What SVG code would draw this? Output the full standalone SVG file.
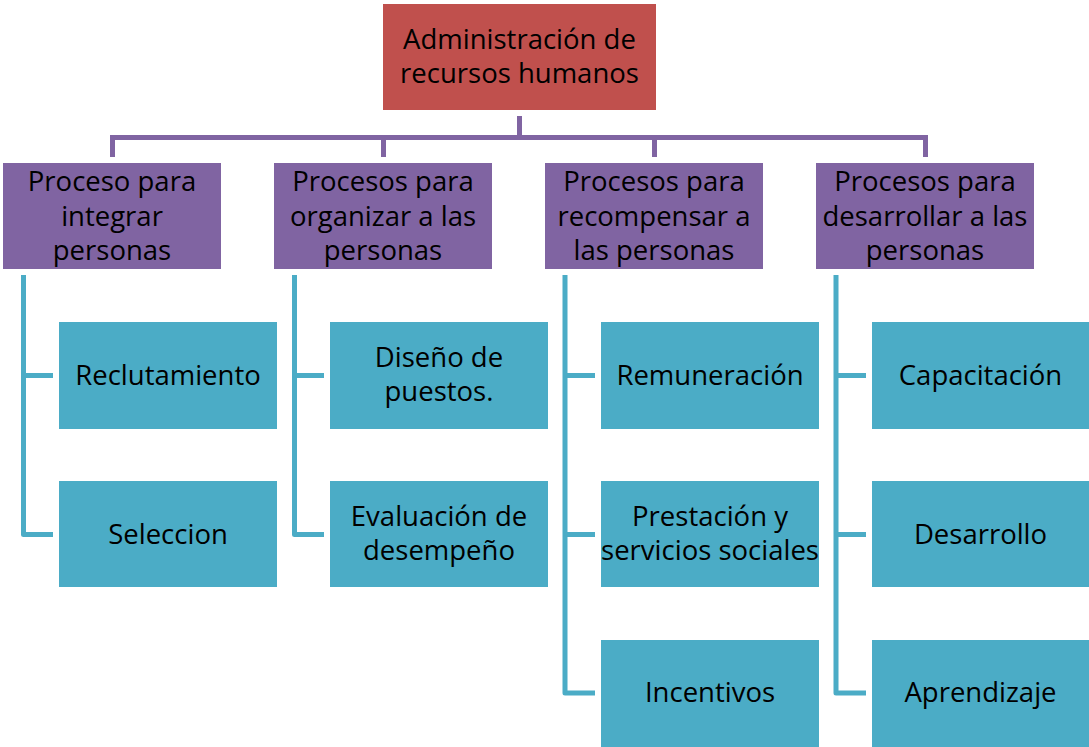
<svg xmlns="http://www.w3.org/2000/svg" width="1089" height="747" viewBox="0 0 1089 747">
<style>
.t{font-family:"Open Sans","Noto Sans","Liberation Sans",sans-serif;font-size:27.5px;fill:#000;text-anchor:middle}
.red{fill:#C0504D}
.pur{fill:#8064A2}
.cy{fill:#4BACC6}
.lp{fill:none;stroke:#8064A2;stroke-width:5}
.lc{fill:none;stroke:#4BACC6;stroke-width:5;stroke-linejoin:round}
</style>
<rect width="1089" height="747" fill="#fff"/>
<g id="connectors">
<path class="lp" d="M519.5,116 V137.5 M112.5,157 V137.5 H925.5 V157 M383.5,137.5 V157 M654.5,137.5 V157"/>
<path class="lc" d="M23.5,275 V534.5 H53 M23.5,375.5 H53"/>
<path class="lc" d="M294.5,275 V534.5 H324 M294.5,375.5 H324"/>
<path class="lc" d="M565,275 V693 H595 M565,375.5 H595 M565,534.5 H595"/>
<path class="lc" d="M836,275 V693 H866 M836,375.5 H866 M836,534.5 H866"/>
</g>
<g id="root"><rect class="red" x="383" y="4" width="273" height="106"/>
<text class="t" x="519.5" y="49">Administración de</text><text class="t" x="519.5" y="83">recursos humanos</text></g>
<g id="p1"><rect class="pur" x="3" y="163" width="218" height="106"/>
<text class="t" x="112" y="191">Proceso para</text><text class="t" x="112" y="225.5">integrar</text><text class="t" x="112" y="260">personas</text></g>
<g id="p2"><rect class="pur" x="274" y="163" width="218" height="106"/>
<text class="t" x="383" y="191">Procesos para</text><text class="t" x="383" y="225.5">organizar a las</text><text class="t" x="383" y="260">personas</text></g>
<g id="p3"><rect class="pur" x="545" y="163" width="218" height="106"/>
<text class="t" x="654" y="191">Procesos para</text><text class="t" x="654" y="225.5">recompensar a</text><text class="t" x="654" y="260">las personas</text></g>
<g id="p4"><rect class="pur" x="816" y="163" width="218" height="106"/>
<text class="t" x="925" y="191">Procesos para</text><text class="t" x="925" y="225.5">desarrollar a las</text><text class="t" x="925" y="260">personas</text></g>
<g id="c1a"><rect class="cy" x="59" y="322" width="218" height="107"/><text class="t" x="168" y="385">Reclutamiento</text></g>
<g id="c1b"><rect class="cy" x="59" y="481" width="218" height="106"/><text class="t" x="168" y="543.5">Seleccion</text></g>
<g id="c2a"><rect class="cy" x="330" y="322" width="218" height="107"/><text class="t" x="439" y="367">Diseño de</text><text class="t" x="439" y="401">puestos.</text></g>
<g id="c2b"><rect class="cy" x="330" y="481" width="218" height="106"/><text class="t" x="439" y="526">Evaluación de</text><text class="t" x="439" y="560">desempeño</text></g>
<g id="c3a"><rect class="cy" x="601" y="322" width="218" height="107"/><text class="t" x="710" y="385">Remuneración</text></g>
<g id="c3b"><rect class="cy" x="601" y="481" width="218" height="106"/><text class="t" x="710" y="526">Prestación y</text><text class="t" x="710" y="560">servicios sociales</text></g>
<g id="c3c"><rect class="cy" x="601" y="640" width="218" height="107"/><text class="t" x="710" y="702">Incentivos</text></g>
<g id="c4a"><rect class="cy" x="872" y="322" width="217" height="107"/><text class="t" x="980.5" y="385">Capacitación</text></g>
<g id="c4b"><rect class="cy" x="872" y="481" width="217" height="106"/><text class="t" x="980.5" y="543.5">Desarrollo</text></g>
<g id="c4c"><rect class="cy" x="872" y="640" width="217" height="107"/><text class="t" x="980.5" y="702">Aprendizaje</text></g>
</svg>
